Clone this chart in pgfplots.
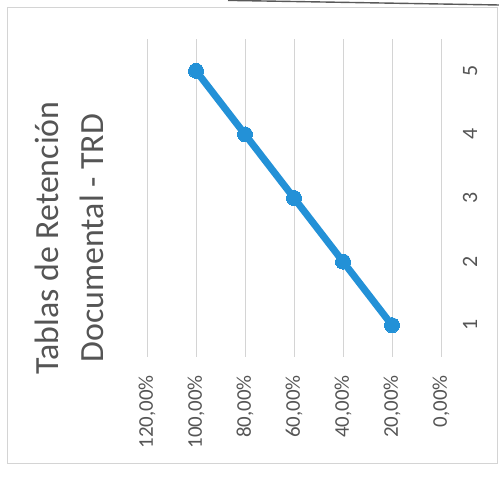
\documentclass[border=0pt]{standalone}
\usepackage{fontspec}
\setmainfont{Carlito}
\usepackage{pgfplots}
\pgfplotsset{compat=1.18}

\definecolor{serie}{RGB}{35,145,215}
\definecolor{textgray}{RGB}{85,85,85}
\definecolor{gridgray}{RGB}{212,212,212}

\begin{document}
\begin{tikzpicture}[x=1bp,y=1bp]
  \path[use as bounding box] (0,0) rectangle (499,477);
  % paper edge along the top
  \draw[black!65, line width=1.4bp] (228,476.6) -- (499,472);
  % chart frame
  \draw[gridgray, line width=0.8bp] (7,14) rectangle (497,470);

  \begin{axis}[
    scale only axis,
    width=294bp, height=318bp,
    at={(294bp,279bp)}, anchor=center,
    x dir=reverse,
    xmin=0, xmax=1.2,
    ymin=0.5, ymax=5.5,
    xtick={0,0.2,0.4,0.6,0.8,1.0,1.2},
    xticklabels={{0,00\%},{20,00\%},{40,00\%},{60,00\%},{80,00\%},{100,00\%},{120,00\%}},
    ytick={1,2,3,4,5},
    yticklabels={1,2,3,4,5},
    xmajorgrids,
    grid style={gridgray, line width=0.8bp},
    axis line style={draw=none},
    major tick length=0pt,
    yticklabel pos=right,
    xticklabel style={rotate=90, anchor=east, inner sep=0pt,
      font=\fontsize{21}{25}\selectfont, text=textgray},
    yticklabel style={rotate=90, anchor=base, inner sep=0pt,
      font=\fontsize{22}{26}\selectfont, text=textgray},
    xticklabel shift=18bp,
    yticklabel shift=36bp,
    clip=false,
  ]
    \addplot[serie, line width=7bp, mark=*, mark size=7.5bp,
      mark options={fill=serie, draw=serie, line width=0pt}]
      coordinates {(0.2,1) (0.4,2) (0.6,3) (0.8,4) (1.0,5)};
  \end{axis}

  \node[rotate=90, align=center, text=textgray, inner sep=0pt,
        font=\fontsize{34}{45}\selectfont] at (69,239)
        {Tablas de Retención\\Documental - TRD};
\end{tikzpicture}
\end{document}
